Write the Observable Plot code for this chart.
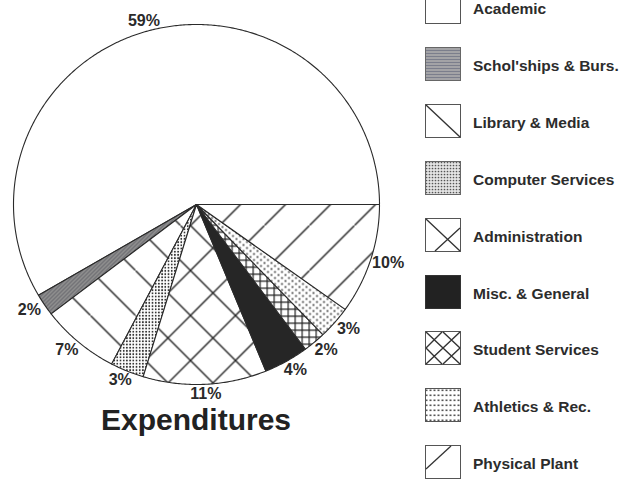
<!DOCTYPE html>
<html>
<head>
<meta charset="utf-8">
<script src="https://cdn.jsdelivr.net/npm/d3@7"></script>
<script src="https://cdn.jsdelivr.net/npm/@observablehq/plot@0.6"></script>
<style>
  html, body { margin: 0; padding: 0; background: #fff; }
  #wrap { position: relative; width: 633px; height: 483px; overflow: hidden; font-family: "Liberation Sans", Arial, sans-serif; color: #2a2a2a; }
  #chart { position: absolute; left: 0; top: 0; }
  #title { position: absolute; left: 0; top: 409px; width: 392px; text-align: center; font-weight: bold; font-size: 30px; line-height: 22px; color: #222; }
  .row { position: absolute; left: 425px; height: 34px; }
  .row svg { position: absolute; left: 0; top: 0; }
  .row span { position: absolute; left: 48px; top: 2px; line-height: 34px; font-weight: bold; font-size: 15.5px; white-space: nowrap; color: #2c2c2c; font-family: "Liberation Sans", Arial, sans-serif; }
</style>
</head>
<body>
<svg width="0" height="0" style="position:absolute">
  <defs>
    <!-- pie patterns -->
    <pattern id="p-schol" patternUnits="userSpaceOnUse" width="4" height="4">
      <rect width="4" height="4" fill="#8e8e8e"/>
      <path d="M0,4 L4,0 M-1,1 L1,-1 M3,5 L5,3" stroke="#55555e" stroke-width="0.9"/>
    </pattern>
    <pattern id="p-lib" patternUnits="userSpaceOnUse" width="45" height="45">
      <rect width="45" height="45" fill="#fff"/>
      <path d="M-2,-2 L47,47" stroke="#222" stroke-width="1.4"/>
    </pattern>
    <pattern id="p-comp" patternUnits="userSpaceOnUse" width="3.2" height="3.2">
      <rect width="3.2" height="3.2" fill="#fff"/>
      <circle cx="1.6" cy="1.6" r="0.95" fill="#333"/>
    </pattern>
    <pattern id="p-admin" patternUnits="userSpaceOnUse" width="45" height="45" x="10" y="0">
      <rect width="45" height="45" fill="#fff"/>
      <path d="M-2,-2 L47,47 M-2,47 L47,-2" stroke="#222" stroke-width="1.4"/>
    </pattern>
    <pattern id="p-ss" patternUnits="userSpaceOnUse" width="7" height="7">
      <rect width="7" height="7" fill="#fff"/>
      <path d="M0,0.6 L7,0.6 M0.6,0 L0.6,7" stroke="#222" stroke-width="1.2"/>
    </pattern>
    <pattern id="p-ath" patternUnits="userSpaceOnUse" width="7" height="6">
      <rect width="7" height="6" fill="#fff"/>
      <circle cx="1.5" cy="1.5" r="0.95" fill="#333"/>
      <circle cx="5" cy="4.5" r="0.95" fill="#333"/>
    </pattern>
    <pattern id="p-pp" patternUnits="userSpaceOnUse" width="45" height="45" x="-6" y="0">
      <rect width="45" height="45" fill="#fff"/>
      <path d="M-2,47 L47,-2" stroke="#222" stroke-width="1.4"/>
    </pattern>
    <!-- legend patterns -->
    <pattern id="l-schol" patternUnits="userSpaceOnUse" width="4" height="3">
      <rect width="4" height="3" fill="#a3a3a6"/>
      <path d="M0,0.5 L4,0.5" stroke="#7b7e8c" stroke-width="1"/>
    </pattern>
    <pattern id="l-comp" patternUnits="userSpaceOnUse" width="3" height="3">
      <rect width="3" height="3" fill="#e4e4e4"/>
      <circle cx="1.5" cy="1.5" r="0.85" fill="#555"/>
    </pattern>
    <pattern id="l-ath" patternUnits="userSpaceOnUse" width="4" height="5">
      <rect width="4" height="5" fill="#fff"/>
      <rect x="0.5" y="1.5" width="2" height="1.6" fill="#555"/>
    </pattern>
  </defs>
</svg>
<div id="wrap">
  <div id="chart"></div>
  <div id="title">Expenditures</div>
</div>
<script>
// ---- data ----
const categories = ["Academic", "Schol'ships & Burs.", "Library & Media", "Computer Services", "Administration", "Misc. & General", "Student Services", "Athletics & Rec.", "Physical Plant"];
const values = [59, 2, 7, 3, 11, 4, 2, 3, 10];
const labels = ["59%", "2%", "7%", "3%", "11%", "4%", "2%", "3%", "10%"];

// ---- styling (not data) ----
const pieFills = ["#ffffff", "url(#p-schol)", "url(#p-lib)", "url(#p-comp)", "url(#p-admin)", "#262626", "url(#p-ss)", "url(#p-ath)", "url(#p-pp)"];

// ---- build slice geometry from the values ----
const total = d3.sum(values);
let acc = 0;
const slices = categories.map((name, i) => {
  const a0 = acc / total * 2 * Math.PI;
  acc += values[i];
  const a1 = acc / total * 2 * Math.PI;
  return {name, value: values[i], label: labels[i], a0, a1, mid: (a0 + a1) / 2};
});
const outline = [];
for (const s of slices) {
  outline.push({name: s.name, x: 0, y: 0});
  const n = Math.max(2, Math.ceil((s.a1 - s.a0) / (Math.PI / 360)));
  for (let k = 0; k <= n; k++) {
    const a = s.a0 + (s.a1 - s.a0) * k / n;
    outline.push({name: s.name, x: Math.cos(a), y: Math.sin(a)});
  }
  outline.push({name: s.name, x: 0, y: 0});
}

const font = '"Liberation Sans", Arial, sans-serif';
const chart = Plot.plot({
  width: 420,
  height: 400,
  margin: 0,
  style: {background: "transparent", overflow: "visible"},
  x: {domain: [-1, 1], range: [13, 379], axis: null},
  y: {domain: [-1, 1], range: [384, 24], axis: null},
  color: {type: "ordinal", domain: categories, range: pieFills},
  marks: [
    Plot.line(outline, {x: "x", y: "y", z: "name", fill: "name", stroke: "#2a2a2a", strokeWidth: 1.1, strokeLinejoin: "round", curve: "linear"}),
    Plot.text(slices, {
      x: d => 1.1 * Math.cos(d.mid),
      y: d => 1.055 * Math.sin(d.mid),
      text: "label",
      fontSize: 16,
      fontWeight: "bold",
      fontFamily: font,
      fill: "#2a2a2a"
    })
  ]
});
document.getElementById("chart").appendChild(chart);

// ---- legend (HTML, built from categories) ----
const swatches = [
  `<rect x="0.5" y="0.5" width="35" height="33" fill="#fff" stroke="#555"/>`,
  `<rect x="0.5" y="0.5" width="35" height="33" fill="url(#l-schol)" stroke="#666"/>`,
  `<rect x="0.5" y="0.5" width="35" height="33" fill="#fff" stroke="#555"/><path d="M1,1 L35,33" stroke="#333" stroke-width="1.3"/>`,
  `<rect x="0.5" y="0.5" width="35" height="33" fill="url(#l-comp)" stroke="#666"/>`,
  `<rect x="0.5" y="0.5" width="35" height="33" fill="#fff" stroke="#555"/><path d="M1,1 L35,33 M10,33 L35,10" stroke="#333" stroke-width="1.3"/>`,
  `<rect x="0.5" y="0.5" width="35" height="33" fill="#222" stroke="#333"/>`,
  `<rect x="0.5" y="0.5" width="35" height="33" fill="#fff" stroke="#555"/><path d="M1,1 L35,33 M18,1 L35,17 M1,17 L17,33 M1,33 L35,1 M1,17 L17,1 M18,33 L35,17" stroke="#333" stroke-width="1.4"/>`,
  `<rect x="0.5" y="0.5" width="35" height="33" fill="url(#l-ath)" stroke="#555"/>`,
  `<rect x="0.5" y="0.5" width="35" height="33" fill="#fff" stroke="#555"/><path d="M1,24 L26,1" stroke="#333" stroke-width="1.3"/>`
];
const wrap = document.getElementById("wrap");
categories.forEach((name, i) => {
  const cy = 7 + 56.9 * i;
  const row = document.createElement("div");
  row.className = "row";
  row.style.top = (cy - 17) + "px";
  row.innerHTML = `<svg width="36" height="34">${swatches[i]}</svg><span>${name}</span>`;
  wrap.appendChild(row);
});
</script>
</body>
</html>
